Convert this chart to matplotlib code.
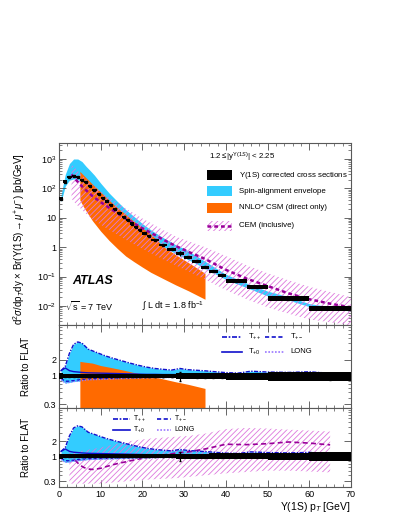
import numpy as np
import matplotlib.pyplot as plt
import matplotlib.ticker as mticker
from matplotlib.patches import Rectangle

plt.rcParams['font.family'] = ['Liberation Sans', 'DejaVu Sans']
plt.rcParams['mathtext.fontset'] = 'custom'
plt.rcParams['mathtext.rm'] = 'Liberation Sans'
plt.rcParams['mathtext.it'] = 'Liberation Sans:italic'
plt.rcParams['mathtext.bf'] = 'Liberation Sans:bold'
plt.rcParams['hatch.linewidth'] = 0.6

# measured cross section, bins in pT [GeV]
edges = [0, 1, 2, 3, 4, 5, 6, 7, 8, 9, 10, 11, 12, 13, 14, 15, 16, 17, 18, 19, 20, 21, 22,
         24, 26, 28, 30, 32, 34, 36, 38, 40, 45, 50, 60, 70]
xsec = [45, 170, 240, 260, 240, 200, 160, 120, 90, 66, 49, 36, 27, 20, 15, 11, 8.4, 6.4, 4.9,
        3.8, 3.0, 2.4, 1.75, 1.2, 0.85, 0.62, 0.45, 0.33, 0.21, 0.15, 0.11, 0.07, 0.044,
        0.018, 0.0085]
sys_frac = [0.12, 0.1, 0.08, 0.08, 0.08, 0.08, 0.08, 0.08, 0.08, 0.08, 0.08, 0.08, 0.08, 0.08,
            0.08, 0.08, 0.09, 0.09, 0.09, 0.09, 0.1, 0.1, 0.1, 0.1, 0.1, 0.11, 0.11, 0.12,
            0.12, 0.13, 0.13, 0.14, 0.15, 0.18, 0.2]
stat_frac = [0.03, 0.02, 0.02, 0.02, 0.02, 0.02, 0.02, 0.02, 0.02, 0.02, 0.02, 0.02, 0.03,
             0.03, 0.03, 0.03, 0.03, 0.03, 0.04, 0.04, 0.04, 0.04, 0.04, 0.05, 0.05, 0.2,
             0.06, 0.07, 0.07, 0.08, 0.09, 0.08, 0.1, 0.1, 0.15]

# spin-alignment envelope on the cross section
env_pt = [0.5, 1.5, 2.5, 3.5, 4.5, 5.5, 6.5, 7.5, 8.5, 10, 12, 14, 16, 18, 20, 22, 25, 28, 30,
          33, 36, 40, 45, 50, 55, 60, 65, 70]
env_up = [60, 300, 700, 1000, 1000, 820, 560, 400, 280, 150, 70, 36, 19, 11, 6.3, 3.9, 2.1,
          1.2, 0.9, 0.5, 0.27, 0.12, 0.06, 0.032, 0.021, 0.012, 0.0095, 0.0083]
env_lo = [35, 120, 190, 210, 200, 170, 135, 105, 80, 52, 28, 15.5, 8.6, 5, 3, 1.9, 1.05, 0.6,
          0.44, 0.27, 0.16, 0.08, 0.042, 0.022, 0.016, 0.0095, 0.0078, 0.0068]

# NNLO* CSM (direct only)
csm_pt = [5, 6, 8, 10, 12, 14, 16, 18, 20, 22, 25, 28, 31, 35]
csm_up = [380, 270, 140, 75, 40, 22, 13, 7.5, 4.5, 2.8, 1.05, 0.55, 0.3, 0.13]
csm_lo = [40, 22, 8, 3.5, 1.7, 0.9, 0.5, 0.32, 0.21, 0.14, 0.085, 0.052, 0.033, 0.017]

# CEM (inclusive)
cem_pt = [3, 4, 5, 6, 8, 10, 12, 14, 16, 18, 20, 22, 25, 28, 31, 35, 40, 45, 50, 55, 60, 65, 70]
cem_c = [300, 200, 140, 100, 55, 34, 22, 14.5, 9.5, 6.4, 4.4, 3.1, 1.8, 1.1, 0.7, 0.4, 0.17,
         0.085, 0.048, 0.027, 0.017, 0.012, 0.009]
cem_up = [650, 470, 330, 240, 130, 80, 50, 33, 21, 14, 9.5, 6.6, 3.8, 2.3, 1.6, 1.0, 0.5,
          0.24, 0.13, 0.075, 0.045, 0.03, 0.02]
cem_lo = [45, 30, 22, 16, 9, 5.8, 3.9, 2.7, 1.8, 1.25, 0.88, 0.63, 0.38, 0.24, 0.15, 0.08,
          0.035, 0.017, 0.009, 0.0055, 0.0035, 0.0028, 0.0022]

# ratios to FLAT for the spin-alignment scenarios
r_pt = [0.5, 1.5, 2.5, 3.5, 4.5, 5.5, 7, 9, 11, 13, 15, 17, 19, 21, 23, 25, 27, 29, 31, 35, 40,
        43, 46, 50, 55, 60, 65]
r_tpp = [1.25, 1.5, 2.6, 3.8, 4.2, 4.0, 3.1, 2.7, 2.35, 2.1, 1.9, 1.72, 1.57, 1.45, 1.37, 1.32,
         1.28, 1.37, 1.3, 1.24, 1.15, 1.13, 1.22, 1.18, 1.16, 1.19, 1.12]
r_tpm = [0.9, 0.8, 0.8, 0.82, 0.84, 0.86, 0.88, 0.89, 0.9, 0.91, 0.92, 0.93, 0.94, 0.95, 0.95,
         0.96, 0.96, 0.97, 0.97, 0.97, 0.98, 0.98, 0.98, 0.98, 0.99, 0.99, 0.99]
r_tp0 = [1.25, 1.4, 1.25, 1.2, 1.18, 1.16, 1.14, 1.13, 1.12, 1.11, 1.1, 1.09, 1.08, 1.07, 1.07,
         1.06, 1.06, 1.06, 1.05, 1.05, 1.04, 1.04, 1.05, 1.04, 1.04, 1.04, 1.03]
r_long = [0.85, 0.74, 0.76, 0.79, 0.8, 0.82, 0.85, 0.86, 0.87, 0.88, 0.89, 0.9, 0.91, 0.92,
          0.93, 0.93, 0.94, 0.94, 0.95, 0.95, 0.96, 0.96, 0.96, 0.97, 0.97, 0.97, 0.97]

# CSM ratio (upper edge only visible)
rcsm_up = [1.85, 1.8, 1.72, 1.55, 1.45, 1.35, 1.25, 1.15, 1.08, 1.0, 0.88, 0.78, 0.7, 0.59]
rcsm_lo = [0.15, 0.12, 0.08, 0.07, 0.06, 0.06, 0.06, 0.06, 0.06, 0.07, 0.07, 0.08, 0.08, 0.09]

# CEM ratio
rcem_pt = [2.5, 3, 4, 5, 6, 7, 8, 9, 10, 12, 14, 16, 18, 20, 22, 25, 28, 31, 35, 40, 45, 50,
           55, 60, 65]
rcem_c = [1.1, 0.95, 0.8, 0.65, 0.58, 0.54, 0.53, 0.54, 0.56, 0.63, 0.7, 0.76, 0.83, 0.9,
          0.97, 1.05, 1.15, 1.22, 1.4, 1.75, 1.72, 1.8, 1.95, 1.85, 1.7]
rcem_up = [1.3, 1.2, 1.2, 1.25, 1.3, 1.35, 1.4, 1.45, 1.5, 1.65, 1.8, 1.95, 2.1, 2.2, 2.3, 2.4,
           2.5, 2.6, 2.9, 3.6, 3.8, 3.7, 3.5, 3.35, 3.2]
rcem_lo = [0.28, 0.27, 0.27, 0.27, 0.27, 0.27, 0.27, 0.27, 0.27, 0.28, 0.29, 0.3, 0.31, 0.32,
           0.33, 0.34, 0.35, 0.37, 0.4, 0.44, 0.47, 0.5, 0.5, 0.48, 0.46]

CYAN = '#33ccff'
ORANGE = '#ff6a00'
PURPLE = '#990099'
HATCH = '#dd77dd'
BLUE = '#1010cc'
VIOLET = '#9977ff'

edges = np.array(edges)
xsec = np.array(xsec)
sys_frac = np.array(sys_frac)
stat_frac = np.array(stat_frac)
centers = 0.5 * (edges[1:] + edges[:-1])
widths = np.diff(edges)

fig = plt.figure(figsize=(3.99, 5.16), dpi=100)
W, H = 399.0, 516.0
x0, xw = 59 / W, 292 / W
ax1 = fig.add_axes([x0, 1 - 325 / H, xw, 182 / H])
ax2 = fig.add_axes([x0, 1 - 408 / H, xw, 83 / H])
ax3 = fig.add_axes([x0, 1 - 487 / H, xw, 79 / H])


def style_axis(ax, labels=False):
    ax.set_xlim(0, 70)
    ax.xaxis.set_major_locator(mticker.MultipleLocator(10))
    ax.xaxis.set_minor_locator(mticker.MultipleLocator(2))
    ax.tick_params(which='both', direction='in', top=True, right=True, labelsize=6.5,
                   color='0.3', pad=2)
    ax.tick_params(which='major', length=5, width=0.6)
    ax.tick_params(which='minor', length=2.5, width=0.5)
    if not labels:
        ax.tick_params(labelbottom=False)
    for s in ax.spines.values():
        s.set_color('0.35')
        s.set_linewidth(0.8)


# ---------- top panel ----------
ax1.set_yscale('log')
ax1.fill_between(env_pt, env_lo, env_up, color=CYAN, lw=0, zorder=1)
ax1.fill_between(csm_pt, csm_lo, csm_up, color=ORANGE, lw=0, zorder=2)
ax1.fill_between(cem_pt, cem_lo, cem_up, facecolor='none', edgecolor=HATCH, hatch='//////',
                 lw=0, zorder=3)
ax1.plot(cem_pt, cem_c, color=PURPLE, lw=1.8, dashes=(1.5, 1.2), zorder=4)
ax1.bar(edges[:-1], 2 * sys_frac * xsec, width=widths, bottom=xsec * (1 - sys_frac),
        align='edge', color='black', lw=0, zorder=5)
ax1.errorbar(centers, xsec, yerr=stat_frac * xsec, fmt='s', ms=2, color='black',
             elinewidth=0.8, capsize=0, zorder=6)
ax1.set_ylim(2.26e-3, 3.5e3)
style_axis(ax1)
ax1.yaxis.set_major_locator(mticker.FixedLocator([1e-2, 1e-1, 1, 10, 1e2, 1e3]))
ax1.yaxis.set_major_formatter(mticker.FixedFormatter(
    ['$10^{-2}$', '$10^{-1}$', '1', '10', '$10^{2}$', '$10^{3}$']))
ax1.yaxis.set_minor_locator(mticker.LogLocator(base=10, subs=np.arange(2, 10), numticks=20))
ax1.yaxis.set_minor_formatter(mticker.NullFormatter())
ax1.set_ylabel(r'd$^{2}\sigma$/dp$_{T}$dy $\times$ Br($\Upsilon$(1S)$\rightarrow\mu^{+}\mu^{-}$) [pb/GeV]',
               fontsize=7)

# legend of the top panel, ROOT style
tr = ax1.transAxes
ax1.text(0.512, 0.923, r'1.2$\leq$|y$^{\Upsilon(1S)}$| < 2.25', transform=tr, fontsize=5.7,
         va='center')
rows = [0.824, 0.736, 0.643, 0.546]
names = [r'$\Upsilon$(1S) corrected cross sections', 'Spin-alignment envelope',
         'NNLO* CSM (direct only)', 'CEM (inclusive)']
bx, bw, bh = 0.507, 0.086, 0.056
ax1.add_patch(Rectangle((bx, rows[0] - bh / 2), bw, bh, transform=tr, color='black', lw=0))
ax1.add_patch(Rectangle((bx, rows[1] - bh / 2), bw, bh, transform=tr, color=CYAN, lw=0))
ax1.add_patch(Rectangle((bx, rows[2] - bh / 2), bw, bh, transform=tr, color=ORANGE, lw=0))
ax1.add_patch(Rectangle((bx, rows[3] - bh / 2), bw, bh, transform=tr, facecolor='none',
                        edgecolor=HATCH, hatch='//////', lw=0))
ax1.plot([bx, bx + bw], [rows[3], rows[3]], transform=tr, color=PURPLE, lw=1.8,
         dashes=(1.5, 1.2))
for yy, nm in zip(rows, names):
    ax1.text(0.616, yy, nm, transform=tr, fontsize=5.7, va='center')

ax1.text(0.045, 0.242, 'ATLAS', transform=tr, fontsize=9, fontweight='bold',
         fontstyle='italic', va='center')
ax1.text(0.02, 0.105, r'$\sqrt{\rm s}$ = 7 TeV', transform=tr, fontsize=6.5, va='center')
ax1.text(0.285, 0.105, r'$\int$ L dt = 1.8 fb$^{-1}$', transform=tr, fontsize=6.5,
         va='center')


# ---------- ratio panels ----------
def ratio_common(ax):
    ax.set_yscale('log')
    lo_env = np.minimum(r_long, r_tpm)
    ax.fill_between(r_pt, lo_env, r_tpp, color=CYAN, lw=0, zorder=1)
    ax.plot(r_pt, r_tpp, color=BLUE, lw=1.0, ls=(0, (3, 1, 1, 1)), zorder=4)
    ax.plot(r_pt, r_tpm, color=BLUE, lw=1.0, ls=(0, (2.5, 1.5)), zorder=4)
    ax.plot(r_pt, r_tp0, color=BLUE, lw=1.0, zorder=4)
    ax.plot(r_pt, r_long, color=VIOLET, lw=1.0, ls=(0, (1, 1)), zorder=4)
    ones = np.ones_like(xsec)
    ax.bar(edges[:-1], 2 * sys_frac, width=widths, bottom=ones - sys_frac, align='edge',
           color='black', lw=0, zorder=5)
    ax.errorbar(centers, ones, yerr=stat_frac, fmt='s', ms=2, color='black',
                elinewidth=0.8, capsize=1, zorder=6)
    ax.yaxis.set_major_locator(mticker.FixedLocator([0.3, 1, 2]))
    ax.yaxis.set_major_formatter(mticker.FixedFormatter(['0.3', '1', '2']))
    ax.yaxis.set_minor_locator(mticker.LogLocator(base=10, subs=np.arange(1, 10),
                                                  numticks=20))
    ax.yaxis.set_minor_formatter(mticker.NullFormatter())
    ax.set_ylabel('Ratio to FLAT', fontsize=7)


def ratio_legend(ax, xs, ys, fs):
    t = ax.transAxes
    (a0, a1, at), (b0, b1, bt) = xs
    specs = [((a0, a1, at, ys[0]), r'T$_{++}$', dict(color=BLUE, ls=(0, (3, 1, 1, 1)))),
             ((b0, b1, bt, ys[0]), r'T$_{+-}$', dict(color=BLUE, ls=(0, (2.5, 1.5)))),
             ((a0, a1, at, ys[1]), r'T$_{+0}$', dict(color=BLUE, ls='-')),
             ((b0, b1, bt, ys[1]), 'LONG', dict(color=VIOLET, ls=(0, (1, 1))))]
    for (l0, l1, tx, yy), lab, kw in specs:
        ax.plot([l0, l1], [yy, yy], transform=t, lw=1.2, **kw)
        ax.text(tx, yy, lab, transform=t, fontsize=fs, va='center')


ratio_common(ax2)
ax2.fill_between(csm_pt, rcsm_lo, rcsm_up, color=ORANGE, lw=0, zorder=2)
ax2.set_ylim(0.258, 8.6)
style_axis(ax2)
ratio_legend(ax2, [(0.558, 0.627, 0.647), (0.705, 0.774, 0.791)], (0.855, 0.675), 5.5)

ratio_common(ax3)
ax3.fill_between(rcem_pt, rcem_lo, rcem_up, facecolor='none', edgecolor=HATCH,
                 hatch='//////', lw=0, zorder=2)
ax3.plot(rcem_pt, rcem_c, color=PURPLE, lw=1.2, dashes=(3, 2), zorder=3)
ax3.set_ylim(0.23, 9.8)
style_axis(ax3, labels=True)
ratio_legend(ax3, [(0.185, 0.243, 0.253), (0.336, 0.385, 0.395)], (0.861, 0.722), 5)
ax3.set_xlabel(r'$\Upsilon$(1S) p$_{T}$ [GeV]', fontsize=7.5, loc='right', labelpad=1)

ax1.yaxis.set_label_coords(-0.11, 0.47)
ax2.yaxis.set_label_coords(-0.095, 0.5)
ax3.yaxis.set_label_coords(-0.095, 0.5)

fig.savefig('out.png', dpi=100)
